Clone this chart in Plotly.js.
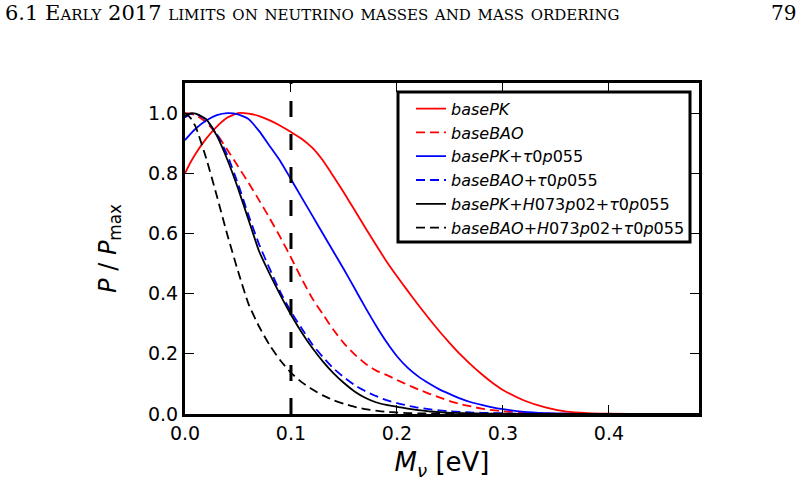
<!DOCTYPE html>
<html>
<head>
<meta charset="utf-8">
<script src="https://cdn.plot.ly/plotly-3.0.1.min.js"></script>
<style>
  html, body { margin: 0; padding: 0; background: #fff; }
  #chart { width: 805px; height: 496px; }
</style>
</head>
<body>
<div id="chart"></div>
<script>
// Sum of neutrino masses [eV] at which each posterior is sampled
const massGrid = [0, 0.005, 0.01, 0.02, 0.03, 0.04, 0.05, 0.06, 0.07, 0.08, 0.09,
  0.10, 0.11, 0.12, 0.13, 0.14, 0.15, 0.16, 0.17, 0.18, 0.19,
  0.20, 0.21, 0.22, 0.23, 0.24, 0.25, 0.26, 0.27, 0.28, 0.29,
  0.30, 0.32, 0.34, 0.36, 0.38, 0.40, 0.44, 0.485];

// Normalised 1D posteriors P/Pmax for each data combination
const basePK = [0.80, 0.835, 0.865, 0.915, 0.955, 0.985, 1.0, 0.998, 0.99, 0.976, 0.958,
  0.937, 0.915, 0.885, 0.843, 0.79, 0.735, 0.678, 0.62, 0.563, 0.508,
  0.458, 0.41, 0.363, 0.318, 0.275, 0.235, 0.197, 0.163, 0.132, 0.104,
  0.08, 0.045, 0.022, 0.008, 0.003, 0.001, 0.0002, 0];

const baseBAO = [1.0, 0.998, 0.993, 0.97, 0.93, 0.878, 0.823, 0.768, 0.71, 0.65, 0.587,
  0.52, 0.45, 0.385, 0.332, 0.28, 0.235, 0.198, 0.168, 0.145, 0.13,
  0.113, 0.097, 0.082, 0.068, 0.055, 0.043, 0.033, 0.025, 0.018, 0.013,
  0.009, 0.004, 0.002, 0.001, 0.0005, 0, 0, 0];

const basePKTau = [0.91, 0.93, 0.948, 0.975, 0.993, 1.0, 0.996, 0.98, 0.94, 0.89, 0.84,
  0.78, 0.72, 0.66, 0.60, 0.54, 0.48, 0.418, 0.355, 0.295, 0.24,
  0.192, 0.154, 0.125, 0.102, 0.082, 0.066, 0.051, 0.039, 0.03, 0.022,
  0.016, 0.007, 0.003, 0.001, 0.0005, 0, 0, 0];

const baseBAOTau = [0.985, 0.997, 0.998, 0.978, 0.93, 0.86, 0.765, 0.66, 0.563, 0.482, 0.405,
  0.34, 0.285, 0.232, 0.19, 0.152, 0.122, 0.096, 0.076, 0.06, 0.046,
  0.036, 0.028, 0.021, 0.016, 0.012, 0.009, 0.007, 0.005, 0.004, 0.003,
  0.002, 0.001, 0.0005, 0, 0, 0, 0, 0];

const basePKH0Tau = [0.99, 0.999, 0.998, 0.98, 0.925, 0.845, 0.75, 0.645, 0.54, 0.465, 0.395,
  0.33, 0.272, 0.22, 0.175, 0.136, 0.103, 0.075, 0.054, 0.039, 0.03,
  0.024, 0.018, 0.013, 0.009, 0.006, 0.004, 0.003, 0.002, 0.0015, 0.001,
  0.0008, 0.0004, 0.0002, 0, 0, 0, 0, 0];

const baseBAOH0Tau = [1.0, 0.985, 0.955, 0.85, 0.725, 0.595, 0.475, 0.365, 0.29, 0.228, 0.178,
  0.137, 0.106, 0.082, 0.062, 0.046, 0.034, 0.024, 0.016, 0.011, 0.007,
  0.005, 0.003, 0.002, 0.0015, 0.001, 0.0005, 0, 0, 0, 0,
  0, 0, 0, 0, 0, 0, 0, 0];

// Reference mass marked by the vertical dashed line
const markerMass = 0.1;

const legendNames = [
  '<i>basePK</i>',
  '<i>baseBAO</i>',
  '<i>basePK</i>+<i>τ</i>0<i>p</i>055',
  '<i>baseBAO</i>+<i>τ</i>0<i>p</i>055',
  '<i>basePK</i>+<i>H</i>073<i>p</i>02+<i>τ</i>0<i>p</i>055',
  '<i>baseBAO</i>+<i>H</i>073<i>p</i>02+<i>τ</i>0<i>p</i>055'
];

const seriesValues = [basePK, baseBAO, basePKTau, baseBAOTau, basePKH0Tau, baseBAOH0Tau];
const seriesColors = ['#ff0000', '#ff0000', '#0000ff', '#0000ff', '#000000', '#000000'];
const seriesDash = ['solid', '9px,5px', 'solid', '9px,5px', 'solid', '9px,5px'];

const traces = seriesValues.map((vals, i) => ({
  type: 'scatter',
  mode: 'lines',
  x: massGrid,
  y: vals,
  name: legendNames[i],
  line: { color: seriesColors[i], width: 1.8, dash: seriesDash[i], shape: 'spline', smoothing: 0.5 }
}));

traces.push({
  type: 'scatter',
  mode: 'lines',
  x: [markerMass, markerMass],
  y: [0, 1.1],
  showlegend: false,
  hoverinfo: 'skip',
  line: { color: '#000000', width: 3, dash: '16px,17px' }
});

const axisCommon = {
  showgrid: false,
  zeroline: false,
  showline: true,
  linecolor: '#000',
  linewidth: 3,
  mirror: 'allticks',
  ticks: 'inside',
  ticklen: 9,
  tickwidth: 1,
  tickcolor: '#000',
  tickformat: '.1f',
  tickfont: { family: 'DejaVu Sans', size: 19, color: '#000' }
};

const layout = {
  width: 805,
  height: 496,
  margin: { l: 185, r: 106, t: 83, b: 82 },
  paper_bgcolor: '#fff',
  plot_bgcolor: '#fff',
  font: { family: 'DejaVu Sans', color: '#000' },
  showlegend: true,
  xaxis: Object.assign({}, axisCommon, {
    range: [0, 0.485],
    dtick: 0.1,
    tick0: 0,
    title: { text: '<i>M</i><sub><i>ν</i></sub> [eV]', font: { family: 'DejaVu Sans', size: 26 }, standoff: 11 }
  }),
  yaxis: Object.assign({}, axisCommon, {
    range: [0, 1.1],
    dtick: 0.2,
    tick0: 0,
    title: { text: '<i>P</i> / <i>P</i><sub>max</sub>', font: { family: 'DejaVu Sans', size: 24 }, standoff: 25 }
  }),
  legend: {
    x: 0.4397,
    y: 0.9737,
    xanchor: 'left',
    yanchor: 'top',
    bgcolor: 'rgba(0,0,0,0)',
    borderwidth: 0,
    itemwidth: 30,
    font: { family: 'DejaVu Sans', size: 16, color: '#000' },
    traceorder: 'normal'
  },
  // framed box behind the legend entries
  shapes: [{
    type: 'rect',
    xref: 'paper', yref: 'paper',
    x0: 0.4144, x1: 0.9825, y0: 0.5196, y1: 0.9728,
    fillcolor: '#fff',
    line: { color: '#000', width: 3 },
    layer: 'above'
  }],
  annotations: [
    {
      text: '6.1 Early 2017 limits on neutrino masses and mass ordering',
      xref: 'paper', yref: 'paper',
      x: -0.354, y: 1.2115,
      xanchor: 'left', yanchor: 'middle',
      showarrow: false,
      font: { family: 'DejaVu Serif', size: 21, variant: 'small-caps', color: '#000' }
    },
    {
      text: '79',
      xref: 'paper', yref: 'paper',
      x: 1.1926, y: 1.2115,
      xanchor: 'right', yanchor: 'middle',
      showarrow: false,
      font: { family: 'DejaVu Serif', size: 20, color: '#000' }
    }
  ]
};

Plotly.newPlot('chart', traces, layout, { displayModeBar: false, staticPlot: true });
</script>
</body>
</html>
